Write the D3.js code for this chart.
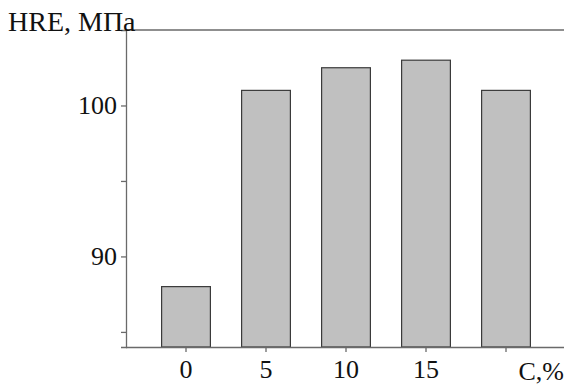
<!DOCTYPE html>
<html>
<head>
<meta charset="utf-8">
<script src="https://cdn.jsdelivr.net/npm/d3@7"></script>
<style>
  body { margin: 0; background: #fff; }
  svg { display: block; }
</style>
</head>
<body>
<div id="chart"></div>
<script>
let width = 564;
let height = 385;

// data
const categories = ["0", "5", "10", "15", "c"];
const tickLabels = ["0", "5", "10", "15", ""];
const values = [88, 101, 102.5, 103, 101];
const yTicks = [85, 90, 95, 100];
const yLabels = [90, 100];

const plotLeft = 126, plotRight = 564, plotTop = 30, plotBottom = 347;

const x = d3.scaleBand()
    .domain(categories)
    .range([146, 546])
    .paddingInner(0.39)
    .paddingOuter(0.195);

const y = d3.scaleLinear()
    .domain([84, 105])
    .range([plotBottom, plotTop]);

const svg = d3.select("#chart")
    .append("svg")
    .attr("width", width)
    .attr("height", height);

// top frame line
svg.append("line")
    .attr("x1", plotLeft).attr("x2", plotRight)
    .attr("y1", y(105)).attr("y2", y(105))
    .attr("stroke", "#6a6a6a")
    .attr("stroke-width", 1.3);

// bars
svg.append("g")
    .selectAll("rect")
    .data(values)
    .join("rect")
    .attr("x", (d, i) => x(categories[i]))
    .attr("width", x.bandwidth())
    .attr("y", d => y(d))
    .attr("height", d => y(84) - y(d))
    .attr("fill", "#c0c0c0")
    .attr("stroke", "#3a3a3a")
    .attr("stroke-width", 1.2);

// y axis
const yAxis = svg.append("g")
    .attr("transform", `translate(${plotLeft},0)`)
    .call(d3.axisLeft(y)
        .tickValues(yTicks)
        .tickSize(5)
        .tickPadding(4)
        .tickFormat(d => yLabels.includes(d) ? d : ""));

// x axis
const xAxis = svg.append("g")
    .attr("transform", `translate(0,${plotBottom})`)
    .call(d3.axisBottom(x)
        .tickSize(5)
        .tickPadding(8)
        .tickFormat((d, i) => tickLabels[i]));

xAxis.select(".domain").attr("d", `M${plotLeft},0.5H${plotRight}`);

[yAxis, xAxis].forEach(a => {
    a.select(".domain").attr("stroke", "#6a6a6a").attr("stroke-width", 1.3);
    a.selectAll(".tick line").attr("stroke", "#6a6a6a").attr("stroke-width", 1.3);
    a.selectAll("text")
        .attr("fill", "#111")
        .style("font-family", "'Liberation Serif', 'Times New Roman', serif")
        .style("font-size", "26px");
});

// axis titles
svg.append("text")
    .attr("x", 8)
    .attr("y", 31)
    .attr("fill", "#111")
    .style("font-family", "'Liberation Serif', 'Times New Roman', serif")
    .style("font-size", "28px")
    .text("HRE, МПа");

svg.append("text")
    .attr("x", 564)
    .attr("y", 380)
    .attr("text-anchor", "end")
    .attr("fill", "#111")
    .style("font-family", "'Liberation Serif', 'Times New Roman', serif")
    .style("font-size", "26px")
    .text("C,%");
</script>
</body>
</html>
